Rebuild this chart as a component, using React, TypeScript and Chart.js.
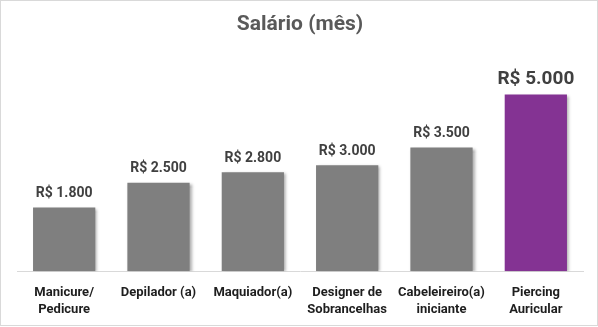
import React, { useEffect, useRef } from "react";
import { Chart, registerables } from "chart.js";

Chart.register(...registerables);

const categories: string[][] = [
  ["Manicure/", "Pedicure"],
  ["Depilador (a)"],
  ["Maquiador(a)"],
  ["Designer de", "Sobrancelhas"],
  ["Cabeleireiro(a)", "iniciante"],
  ["Piercing", "Auricular"],
];
const salaries: number[] = [1800, 2500, 2800, 3000, 3500, 5000];
const barColors: string[] = ["#7f7f7f", "#7f7f7f", "#7f7f7f", "#7f7f7f", "#7f7f7f", "#843393"];
const titleText = "Salário (mês)";

const FONT = 'Roboto, "Liberation Sans", sans-serif';

const fmt = (v: number) => "R$ " + v.toLocaleString("pt-BR");

const shadowPlugin = {
  id: "barShadow",
  beforeDatasetsDraw(chart: any) {
    const ctx = chart.ctx;
    ctx.save();
    ctx.shadowColor = "rgba(0,0,0,0.35)";
    ctx.shadowOffsetX = 2;
    ctx.shadowOffsetY = 1;
    ctx.shadowBlur = 3;
  },
  afterDatasetsDraw(chart: any) {
    chart.ctx.restore();
  },
};

const labelPlugin = {
  id: "valueLabels",
  afterDatasetsDraw(chart: any) {
    const ctx = chart.ctx;
    const meta = chart.getDatasetMeta(0);
    ctx.save();
    ctx.textAlign = "center";
    ctx.textBaseline = "bottom";
    meta.data.forEach((bar: any, i: number) => {
      const last = i === salaries.length - 1;
      ctx.font = `bold ${last ? 19 : 14}px ${FONT}`;
      ctx.fillStyle = "#404040";
      ctx.fillText(fmt(salaries[i]), bar.x, bar.y - (last ? 6 : 7));
    });
    ctx.restore();
  },
};

const borderPlugin = {
  id: "outerBorder",
  afterDraw(chart: any) {
    const ctx = chart.ctx;
    ctx.save();
    ctx.strokeStyle = "#d9d9d9";
    ctx.lineWidth = 1;
    ctx.strokeRect(0.5, 0.5, chart.width - 1, chart.height - 2);
    ctx.restore();
  },
};

export default function App() {
  const ref = useRef<HTMLCanvasElement>(null);
  useEffect(() => {
    document.body.style.margin = "0";
    const chart = new Chart(ref.current!, {
      type: "bar",
      data: {
        labels: categories,
        datasets: [
          {
            data: salaries,
            backgroundColor: barColors,
            categoryPercentage: 1,
            barPercentage: 0.66,
          },
        ],
      },
      options: {
        animation: false,
        responsive: false,
        maintainAspectRatio: false,
        layout: { padding: { left: 17, right: 15, top: 0, bottom: -4 } },
        plugins: {
          legend: { display: false },
          tooltip: { enabled: false },
          title: {
            display: true,
            text: titleText,
            color: "#595959",
            font: { family: FONT, size: 21, weight: "bold" },
            padding: { top: 12, bottom: 22 },
          },
        },
        scales: {
          x: {
            grid: { display: false, drawTicks: false },
            border: { display: true, color: "#d9d9d9", width: 1 },
            ticks: {
              color: "#1e1e1e",
              font: { family: FONT, size: 13, weight: "bold", lineHeight: 1.3 },
              padding: 13,
              maxRotation: 0,
              autoSkip: false,
            },
          },
          y: {
            display: false,
            min: 0,
            max: 6000,
          },
        },
      },
      plugins: [shadowPlugin, labelPlugin, borderPlugin],
    });
    return () => chart.destroy();
  }, []);
  return (
    <div style={{ width: 598, height: 327 }}>
      <canvas ref={ref} width={598} height={327} style={{ display: "block" }} />
    </div>
  );
}
